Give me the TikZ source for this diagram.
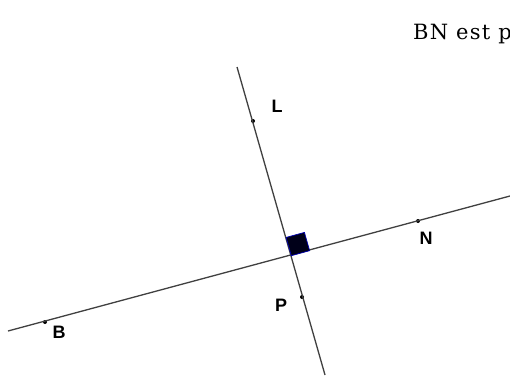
\documentclass[tikz,border=0pt]{standalone}
\usepackage{fontspec}
\setmainfont{DejaVu Serif}[LetterSpace=6]
\setsansfont{Liberation Sans}
\usetikzlibrary{calc}

\begin{document}
\begin{tikzpicture}[x=1pt, y=-1pt,
    ptlabel/.style={font=\sffamily\bfseries\fontsize{18}{21}\selectfont, inner sep=0pt},
    pt/.style={circle, fill=black, inner sep=0pt, minimum size=4pt}]
    \useasboundingbox (0,0) rectangle (510,377);

    % Points des droites
    \coordinate (Bend) at (8,331);
    \coordinate (Nend) at (510,196);
    \coordinate (Lend) at (237,67);
    \coordinate (Pend) at (325,375);
    \node[pt] (B) at (45,322) {};
    \node[pt] (N) at (418,221) {};
    \node[pt] (L) at (253,121) {};
    \node[pt] (P) at (302,297) {};

    % Droites
    \draw[line width=1.3pt, black!75] (Bend) -- (Nend);
    \draw[line width=1.3pt, black!75] (Lend) -- (Pend);

    % Angle droit
    \coordinate (O) at (291.3,255.7);
    \filldraw[fill=black!90!blue, draw=blue!70!black, line width=0.7pt]
        (O) -- ($(O)!19pt!(N)$) -- ($(O)!19pt!(N) + (O)!19pt!(L) - (O)$) -- ($(O)!19pt!(L)$) -- cycle;

    % Noms des points
    \node[ptlabel] (labL) at (277,106) {L};
    \node[ptlabel] (labN) at (426,238) {N};
    \node[ptlabel] (labP) at (281,305) {P};
    \node[ptlabel] (labB) at (59,332) {B};

    \node[anchor=base west, inner sep=0pt, font=\fontsize{21}{24}\selectfont] (titre) at (413,40) {BN est p};
\end{tikzpicture}
\end{document}
